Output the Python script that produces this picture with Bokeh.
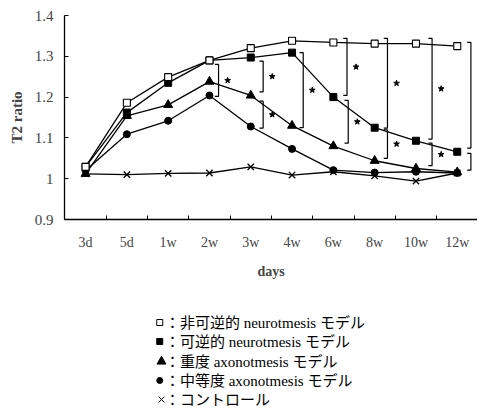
from bokeh.plotting import figure
from bokeh.models import FixedTicker, Range1d
from bokeh.layouts import column
from bokeh.core.properties import value
from bokeh.embed import file_html
from bokeh.resources import INLINE

categories = ["3d", "5d", "1w", "2w", "3w", "4w", "6w", "8w", "10w", "12w"]
irreversible = [1.029, 1.186, 1.249, 1.290, 1.320, 1.338, 1.334, 1.331, 1.331, 1.325]
reversible = [1.029, 1.162, 1.235, 1.290, 1.297, 1.309, 1.200, 1.125, 1.093, 1.066]
severe = [1.012, 1.154, 1.181, 1.238, 1.204, 1.130, 1.080, 1.044, 1.025, 1.016]
moderate = [1.020, 1.109, 1.142, 1.204, 1.128, 1.073, 1.021, 1.015, 1.017, 1.014]
control = [1.012, 1.010, 1.013, 1.014, 1.029, 1.009, 1.017, 1.007, 0.994, 1.014]

y_ticks = [0.9, 1.0, 1.1, 1.2, 1.3, 1.4]
y_tick_labels = ["0.9", "1", "1.1", "1.2", "1.3", "1.4"]

# significance brackets: category, upper value, lower value
bracket_cat = ["2w", "3w", "3w", "4w", "6w", "6w", "8w", "8w", "10w", "10w", "12w", "12w"]
bracket_top = [1.280, 1.288, 1.190, 1.309, 1.344, 1.192, 1.344, 1.120, 1.344, 1.087, 1.334, 1.062]
bracket_bot = [1.202, 1.213, 1.124, 1.125, 1.204, 1.087, 1.124, 1.050, 1.097, 1.032, 1.075, 1.021]
bracket_dx = [0.22, 0.30, 0.30, 0.27, 0.33, 0.36, 0.31, 0.31, 0.39, 0.39, 0.33, 0.33]

legend_texts = [
    "：非可逆的 neurotmesis モデル",
    "：可逆的 neurotmesis モデル",
    "：重度 axonotmesis モデル",
    "：中等度 axonotmesis モデル",
    "：コントロール",
]

SERIF = "Liberation Serif"
MIXED = "Liberation Serif, Noto Sans CJK JP"
idx = list(range(len(categories)))

W = 477
H1, H2 = 290, 119
p = figure(width=W, height=H1, output_backend="svg", toolbar_location=None,
           x_range=Range1d(-0.51, 9.49), y_range=Range1d(0.9, 1.4),
           min_border_left=64, min_border_right=0, min_border_top=15,
           min_border_bottom=H1 - 15 - 204)
p.outline_line_color = None
p.grid.visible = False

xa = p.xaxis[0]
xa.ticker = FixedTicker(ticks=idx, minor_ticks=[i + 0.5 for i in idx[:-1]])
xa.major_label_overrides = {i: c for i, c in zip(idx, categories)}
xa.major_tick_in = 0
xa.major_tick_out = 0
xa.minor_tick_in = 4
xa.minor_tick_out = 0
xa.major_label_standoff = 15
xa.major_label_text_font = SERIF
xa.major_label_text_font_size = "14px"
xa.axis_label = "days"
xa.axis_label_text_font = SERIF
xa.axis_label_text_font_style = "bold"
xa.axis_label_text_font_size = "14px"
xa.axis_label_standoff = 11
xa.axis_line_width = 1.3

ya = p.yaxis[0]
ya.ticker = FixedTicker(ticks=y_ticks, minor_ticks=[])
ya.major_label_overrides = {t: l for t, l in zip(y_ticks, y_tick_labels)}
ya.major_tick_in = 4
ya.major_tick_out = 0
ya.minor_tick_in = 0
ya.minor_tick_out = 0
ya.major_label_standoff = 11
ya.major_label_text_font = SERIF
ya.major_label_text_font_size = "15px"
ya.axis_label = "T2 ratio"
ya.axis_label_text_font = SERIF
ya.axis_label_text_font_style = "bold"
ya.axis_label_text_font_size = "15px"
ya.axis_label_standoff = 7
ya.axis_line_width = 1.3

lw = 1.3
for vals in [control, moderate, severe, reversible, irreversible]:
    p.line(idx, vals, line_color="black", line_width=lw)

p.scatter(idx, control, marker="x", size=9, line_color="black", line_width=1.3)
p.scatter(idx, moderate, marker="circle", size=7, fill_color="black", line_color="black")
p.scatter(idx, severe, marker="triangle", size=9, fill_color="black", line_color="black")
p.scatter(idx, reversible, marker="square", size=7, fill_color="black", line_color="black")
p.scatter(idx, irreversible, marker="square", size=7, fill_color="white",
          line_color="black", line_width=1.1)

# brackets
tick = 0.09
xs, ys, sx, sy = [], [], [], []
for c, t, b, dx in zip(bracket_cat, bracket_top, bracket_bot, bracket_dx):
    x = categories.index(c) + dx
    xs.append([x - tick, x, x, x - tick])
    ys.append([t, t, b, b])
    sx.append(x + 0.22)
    sy.append((t + b) / 2)
p.multi_line(xs, ys, line_color="black", line_width=1.2)
p.scatter(sx, sy, marker="star", size=6, fill_color="black", line_color="black")

# legend panel below (pixel-like coordinates, y downward)
p2 = figure(width=W, height=H2, output_backend="svg", toolbar_location=None,
            x_range=Range1d(0, W), y_range=Range1d(H2, 0), min_border=0,
            x_axis_type=None, y_axis_type=None)
p2.outline_line_color = None
p2.grid.visible = False

row_y = [32, 51, 71, 90, 109]
lg_markers = ["square", "square", "triangle", "circle", "x"]
lg_fill = ["white", "black", "black", "black", "black"]
lg_size = [6, 6, 9, 6, 8]
lg_x = [110, 110, 112, 110, 112]
for t, y, m, f, s, mx in zip(legend_texts, row_y, lg_markers, lg_fill, lg_size, lg_x):
    p2.scatter([mx], [y], marker=m, size=s, fill_color=f, line_color="black", line_width=1)
    p2.text([116], [y], text=[t], text_font=value(MIXED), text_font_size="15px",
            text_baseline="middle", text_align="left", text_color="black")

open("out.html", "w").write(file_html(column(p, p2, spacing=0), INLINE))
